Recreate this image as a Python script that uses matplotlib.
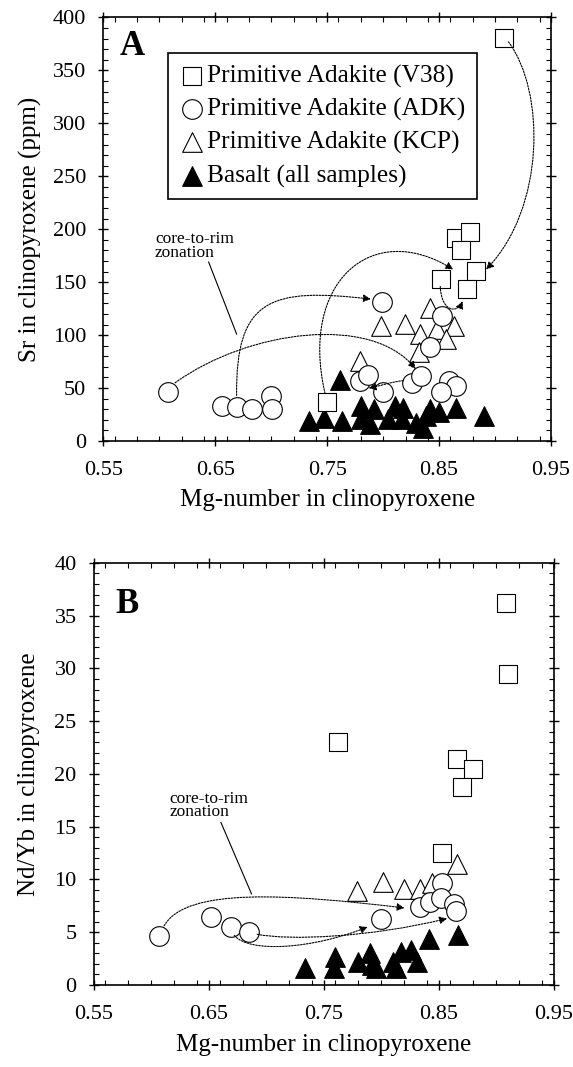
import matplotlib
matplotlib.use("Agg")
import matplotlib.pyplot as plt
from matplotlib.path import Path
from matplotlib.patches import FancyArrowPatch
from matplotlib.ticker import MultipleLocator

plt.rcParams["font.family"] = ["Liberation Serif", "DejaVu Serif"]

# ---- Panel A: Sr (ppm) vs Mg-number ----
v38_mg_a = [0.908, 0.865, 0.878, 0.870, 0.852, 0.883, 0.875, 0.750]
v38_sr_a = [381, 192, 197, 180, 153, 161, 144, 37]

adk_mg_a = [0.608, 0.6555, 0.669, 0.683, 0.700, 0.7006, 0.799, 0.779, 0.786,
            0.800, 0.826, 0.834, 0.842, 0.853, 0.859, 0.865, 0.8515]
adk_sr_a = [46, 33, 32.5, 30, 42.7, 30, 131, 57, 62, 46, 55, 61, 88.5, 118.5,
            57, 52, 46]

kcp_mg_a = [0.798, 0.8197, 0.842, 0.833, 0.8485, 0.8636, 0.856, 0.832, 0.7797]
kcp_sr_a = [109, 110.6, 126, 101, 106, 109, 96, 84, 76]

bas_mg_a = [0.734, 0.747, 0.7615, 0.7636, 0.780, 0.788, 0.780, 0.792, 0.8106,
            0.818, 0.8167, 0.829, 0.836, 0.842, 0.850, 0.865, 0.890, 0.8045,
            0.838]
bas_sr_a = [19, 22, 58, 19, 20.5, 16, 33, 30, 33, 31.6, 20.5, 17, 12.6, 30,
            27, 31.6, 23.7, 20.5, 23.7]

# ---- Panel B: Nd/Yb vs Mg-number ----
v38_mg_b = [0.908, 0.910, 0.762, 0.866, 0.880, 0.870, 0.853]
v38_nd_b = [36.2, 29.5, 23.0, 21.4, 20.5, 18.8, 12.5]

adk_mg_b = [0.6067, 0.6515, 0.6688, 0.685, 0.800, 0.8336, 0.8425, 0.853,
            0.8515, 0.863, 0.865]
adk_nd_b = [4.65, 6.44, 5.5, 5.0, 6.28, 7.4, 7.85, 9.7, 8.2, 7.7, 7.0]

kcp_mg_b = [0.779, 0.801, 0.820, 0.8336, 0.844, 0.8655]
kcp_nd_b = [8.95, 9.73, 9.1, 9.1, 9.7, 11.46]

bas_mg_b = [0.7336, 0.760, 0.759, 0.780, 0.790, 0.7918, 0.8097, 0.817, 0.826,
            0.8306, 0.8127, 0.841, 0.8664, 0.795]
bas_nd_b = [1.57, 2.67, 1.57, 2.2, 3.0, 1.9, 2.2, 3.14, 3.3, 2.2, 1.6, 4.4,
            4.7, 1.57]

# core-to-rim zonation arrows (cubic bezier: start, ctrl1, ctrl2, end)
arrows_a = [
    [(0.912, 377), (0.945, 330), (0.945, 220), (0.892, 162)],
    [(0.748, 45), (0.725, 150), (0.790, 210), (0.8626, 162)],
    [(0.669, 43), (0.668, 135), (0.700, 145), (0.789, 134)],
    [(0.614, 55), (0.680, 105), (0.790, 120), (0.829, 68)],
    [(0.818, 57), (0.808, 56), (0.797, 52), (0.787, 50)],
    [(0.851, 146), (0.852, 122), (0.866, 120), (0.871, 132)],
]
arrows_b = [
    [(0.611, 5.6), (0.630, 9.3), (0.720, 8.6), (0.820, 7.3)],
    [(0.692, 4.8), (0.720, 4.2), (0.790, 4.5), (0.857, 6.3)],
    [(0.672, 4.7), (0.685, 3.0), (0.740, 3.4), (0.788, 5.5)],
]

TICK_FS = 16
LABEL_FS = 18


def style_axes(ax, ymax, ymajor, yminor):
    ax.set_xlim(0.55, 0.95)
    ax.set_ylim(0, ymax)
    ax.xaxis.set_minor_locator(MultipleLocator(0.02))
    ax.yaxis.set_major_locator(MultipleLocator(ymajor))
    ax.yaxis.set_minor_locator(MultipleLocator(yminor))
    ax.set_xticks([0.55, 0.65, 0.75, 0.85, 0.95])
    ax.set_xticklabels(["0.55", "0.65", "0.75", "0.85", "0.95"])
    ax.tick_params(which="major", direction="inout", length=7, width=1,
                   top=True, right=True, labelsize=TICK_FS)
    ax.tick_params(which="minor", direction="in", length=3.5, width=0.8,
                   top=True, right=True)
    ax.tick_params(axis="x", which="major", pad=11)
    ax.tick_params(axis="y", which="major", pad=9)
    for sp in ax.spines.values():
        sp.set_linewidth(1.2)


def draw_points(ax, vmg, vy, amg, ay, kmg, ky, bmg, by):
    ax.scatter(bmg, by, marker="^", s=200, c="black", edgecolors="black",
               linewidths=0.8, zorder=3, label="Basalt (all samples)")
    ax.scatter(kmg, ky, marker="^", s=200, facecolors="white",
               edgecolors="black", linewidths=0.8, zorder=4,
               label="Primitive Adakite (KCP)")
    ax.scatter(amg, ay, marker="o", s=200, facecolors="white",
               edgecolors="black", linewidths=0.8, zorder=5,
               label="Primitive Adakite (ADK)")
    ax.scatter(vmg, vy, marker="s", s=170, facecolors="white",
               edgecolors="black", linewidths=0.8, zorder=6,
               label="Primitive Adakite (V38)")


def draw_arrows(ax, arrows):
    codes = [Path.MOVETO, Path.CURVE4, Path.CURVE4, Path.CURVE4]
    for pts in arrows:
        arr = FancyArrowPatch(path=Path(pts, codes), arrowstyle="-|>",
                              mutation_scale=11, linestyle=(0, (1.5, 1.2)),
                              linewidth=0.8, color="black",
                              transform=ax.transData, zorder=7)
        ax.add_patch(arr)


fig = plt.figure(figsize=(5.73, 10.67), dpi=100)
ax1 = fig.add_axes([0.1806, 0.5867, 0.7810, 0.3969])
ax2 = fig.add_axes([0.1640, 0.0769, 0.8028, 0.3955])

# Panel A
style_axes(ax1, 400, 50, 10)
draw_points(ax1, v38_mg_a, v38_sr_a, adk_mg_a, adk_sr_a, kcp_mg_a, kcp_sr_a,
            bas_mg_a, bas_sr_a)
draw_arrows(ax1, arrows_a)
ax1.text(0.037, 0.911, "A", transform=ax1.transAxes, fontsize=25,
         fontweight="bold", va="baseline", ha="left")
ax1.text(0.596, 198, "core-to-rim\nzonation", fontsize=12.5, va="top",
         ha="left", linespacing=0.8)
ax1.plot([0.644, 0.669], [169, 101], color="black", linewidth=0.8)
ax1.set_xlabel("Mg-number in clinopyroxene", fontsize=LABEL_FS)
ax1.set_ylabel("Sr in clinopyroxene (ppm)", fontsize=LABEL_FS)
ax1.xaxis.set_label_coords(0.5, -0.113)
ax1.yaxis.set_label_coords(-0.137, 0.5)

handles, labels = ax1.get_legend_handles_labels()
order = [3, 2, 1, 0]
leg = ax1.legend([handles[i] for i in order], [labels[i] for i in order],
                 loc="upper left", bbox_to_anchor=(0.144, 0.916),
                 fontsize=18.3, frameon=True, fancybox=False, framealpha=1,
                 edgecolor="black", handletextpad=0.1, handlelength=1.0,
                 borderpad=0.45, labelspacing=0.4, borderaxespad=0)
leg.get_frame().set_linewidth(1.2)
leg.set_zorder(10)

# Panel B
style_axes(ax2, 40, 5, 1)
draw_points(ax2, v38_mg_b, v38_nd_b, adk_mg_b, adk_nd_b, kcp_mg_b, kcp_nd_b,
            bas_mg_b, bas_nd_b)
draw_arrows(ax2, arrows_b)
ax2.text(0.046, 0.881, "B", transform=ax2.transAxes, fontsize=25,
         fontweight="bold", va="baseline", ha="left")
ax2.text(0.616, 18.4, "core-to-rim\nzonation", fontsize=12.5, va="top",
         ha="left", linespacing=0.8)
ax2.plot([0.6604, 0.687], [15.4, 8.63], color="black", linewidth=0.8)
ax2.set_xlabel("Mg-number in clinopyroxene", fontsize=LABEL_FS)
ax2.set_ylabel("Nd/Yb in clinopyroxene", fontsize=LABEL_FS)
ax2.xaxis.set_label_coords(0.5, -0.116)
ax2.yaxis.set_label_coords(-0.117, 0.5)

fig.savefig("out.png", dpi=100)
plt.close(fig)
